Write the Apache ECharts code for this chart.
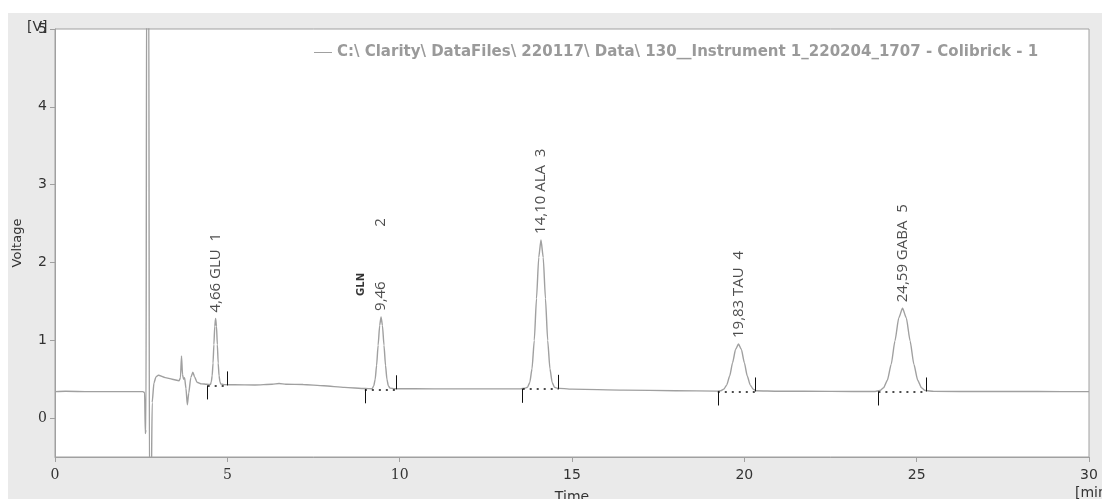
<!DOCTYPE html>
<html><head><meta charset="utf-8">
<script src="https://cdn.jsdelivr.net/npm/echarts@6/dist/echarts.min.js"></script>
<style>html,body{margin:0;padding:0;background:#fff}#c{width:1102px;height:499px}</style>
</head><body><div id="c"></div>
<script>
// ---- data ----
const seriesName = 'C:\\ Clarity\\ DataFiles\\ 220117\\ Data\\ 130__Instrument 1_220204_1707 - Colibrick - 1';
const traceTime = [
  0.00,0.30,1.00,2.00,2.55,2.60,2.62,2.64,2.66,2.72,2.74,2.79,2.82,2.87,2.93,3.00,3.20,3.40,3.60,3.64,3.67,3.70,3.73,3.76,3.80,3.84,3.88,3.94,4.00,4.05,4.12,4.25,4.40,4.51,
  4.535,4.56,4.585,4.61,4.635,4.66,4.685,4.71,4.735,4.76,4.785,4.81,
  4.90,5.20,5.80,6.30,6.50,6.70,7.20,7.80,8.40,9.00,9.20,
  9.25,9.29,9.33,9.375,9.42,9.46,9.50,9.545,9.59,9.63,9.67,9.72,
  9.85,11.0,12.5,13.5,
  13.645,13.71,13.775,13.84,13.905,13.97,14.035,14.10,14.165,14.23,14.295,14.36,14.425,14.49,14.555,
  15.0,16.5,18.0,19.2,
  19.32,19.405,19.49,19.575,19.66,19.745,19.83,19.915,20.0,20.085,20.17,20.255,20.34,
  21.0,22.5,23.8,
  23.93,24.04,24.15,24.26,24.37,24.48,24.59,24.70,24.81,24.92,25.03,25.14,25.25,
  25.5,27.0,28.5,30.0
];
const traceVolt = [
  0.34,0.345,0.34,0.34,0.34,0.33,-0.20,-0.15,6.00,6.00,-1.00,-1.00,0.20,0.45,0.53,0.55,0.52,0.50,0.48,0.52,0.80,0.56,0.50,0.52,0.38,0.17,0.32,0.52,0.59,0.53,0.46,0.44,0.435,0.432,
  0.467,0.545,0.706,0.946,1.18,1.28,1.18,0.946,0.706,0.545,0.467,0.439,
  0.43,0.428,0.425,0.435,0.445,0.435,0.432,0.415,0.395,0.38,0.378,
  0.416,0.50,0.675,0.936,1.191,1.30,1.191,0.936,0.675,0.50,0.416,0.385,
  0.378,0.376,0.375,0.375,
  0.385,0.396,0.459,0.634,0.997,1.536,2.065,2.29,2.065,1.536,0.997,0.634,0.459,0.396,0.385,
  0.372,0.36,0.352,0.347,
  0.352,0.372,0.427,0.542,0.713,0.881,0.952,0.881,0.713,0.542,0.427,0.372,0.352,
  0.345,0.343,0.342,
  0.354,0.389,0.487,0.689,0.991,1.286,1.412,1.286,0.991,0.689,0.487,0.389,0.354,
  0.343,0.342,0.341,0.340
];
const peakTimes = [4.66, 9.46, 14.10, 19.83, 24.59];
const peakApex  = [1.28, 1.30, 2.29, 0.952, 1.412];
const peakNames = ['GLU', '', 'ALA', 'TAU', 'GABA'];
const peakNums  = [1, 2, 3, 4, 5];
const peakStart = [4.43, 8.99, 13.57, 19.23, 23.89];
const peakEnd   = [4.99, 9.91, 14.61, 20.32, 25.27];
const peakBase  = [0.42, 0.37, 0.376, 0.342, 0.342];
const noteTime = 8.89, noteVolt = 1.57, noteText = 'GLN';
const xTicks = [0, 5, 10, 15, 20, 25, 30];
const yTicks = [0, 1, 2, 3, 4, 5];

// ---- build ----
const markLen = 0.18;
const trace = traceTime.map((t, i) => [t, traceVolt[i]]);
const mlData = [];
peakTimes.forEach((_, i) => {
  mlData.push([{coord:[peakStart[i], peakBase[i]]}, {coord:[peakStart[i], peakBase[i] - markLen]}]);
  mlData.push([{coord:[peakEnd[i], peakBase[i]]}, {coord:[peakEnd[i], peakBase[i] + markLen]}]);
  mlData.push([{coord:[peakStart[i], peakBase[i]], lineStyle:{type:[2,5], width:1.5}}, {coord:[peakEnd[i], peakBase[i]]}]);
});
const fmtT = t => t.toFixed(2).replace('.', ',');
const labelPts = peakTimes.map((t, i) => ({
  value: [t, peakApex[i]],
  txt: fmtT(t) + ' ' + (peakNames[i] || '\u2007\u2007\u2007\u2007\u2007') + '  ' + peakNums[i]
}));

const chart = echarts.init(document.getElementById('c'), null, {renderer: 'canvas'});
const tickFont = 'DejaVu Sans';
const serifFont = 'DejaVu Serif';
chart.setOption({
  animation: false,
  backgroundColor: '#ffffff',
  graphic: [
    {type:'rect', shape:{x:8, y:13, width:1094, height:486}, style:{fill:'#eaeaea'}, z:-10, silent:true},
    {type:'text', left: 27, top: 20, style:{text:'[V]', fontSize:14, fontFamily:tickFont, fill:'#333'}, z:10},
    {type:'text', left: 1075, top: 486, style:{text:'[min]', fontSize:14, fontFamily:tickFont, fill:'#333'}}
  ],
  legend: {
    data: [seriesName], left: 309, top: 40, icon: 'rect', itemWidth: 18, itemHeight: 1,
    textStyle: {color:'#9a9a9a', fontWeight:'bold', fontSize:15, fontFamily:'DejaVu Sans'}
  },
  grid: {left:55, right:13, top:29, bottom:42, outerBoundsMode:'none', containLabel:false,
    show:true, backgroundColor:'#ffffff', borderColor:'#a0a0a0', borderWidth:1},
  xAxis: {
    type:'value', min:0, max:30, interval:5,
    name:'Time', nameLocation:'middle', nameGap:33,
    nameTextStyle:{fontSize:14, fontFamily:tickFont, color:'#333'},
    axisLine:{onZero:false, lineStyle:{color:'#a0a0a0'}},
    axisTick:{show:true, length:5, lineStyle:{color:'#a0a0a0'}},
    splitLine:{show:false},
    axisLabel:{margin:11, color:'#333',
      formatter: v => ([0,5,10].includes(v) ? '{s|' + v + '}' : '{n|' + v + '}'),
      rich:{s:{fontFamily:serifFont, fontSize:14, color:'#333'}, n:{fontFamily:tickFont, fontSize:14, color:'#333'}}}
  },
  yAxis: {
    type:'value', min:-0.5, max:5,
    name:'Voltage', nameLocation:'middle', nameGap:31, nameRotate:90,
    nameTextStyle:{fontSize:13, fontFamily:tickFont, color:'#333'},
    axisLine:{show:true, onZero:false, lineStyle:{color:'#a0a0a0'}},
    axisTick:{show:true, length:5, customValues: yTicks, lineStyle:{color:'#a0a0a0'}},
    splitLine:{show:false},
    axisLabel:{margin:8, color:'#333', customValues: yTicks,
      formatter: v => (v === 0 ? '{s|0}' : '{n|' + v + '}'),
      rich:{s:{fontFamily:serifFont, fontSize:14, color:'#333'}, n:{fontFamily:tickFont, fontSize:14, color:'#333'}}}
  },
  series: [
    {
      name: seriesName, type:'line', data: trace, symbol:'none', smooth:0.2, smoothMonotone:'x',
      lineStyle:{color:'#a0a0a0', width:1.4}, itemStyle:{color:'#a0a0a0'}, clip:true,
      markLine:{silent:true, symbol:['none','none'], label:{show:false},
        lineStyle:{color:'#111', width:1, type:'solid'}, emphasis:{disabled:true}, data: mlData}
    },
    {
      type:'scatter', data: labelPts, symbolSize:0, silent:true,
      label:{show:true, position:'top', distance:6, rotate:90, align:'left', verticalAlign:'middle',
        formatter: p => p.data.txt, fontSize:15, fontFamily:'Open Sans', color:'#222'}
    },
    {
      type:'scatter', data:[[noteTime, noteVolt]], symbolSize:0, silent:true,
      label:{show:true, position:'top', distance:0, rotate:90, align:'left', verticalAlign:'middle',
        formatter: () => noteText, fontSize:10, fontWeight:'bold', fontFamily:'DejaVu Sans', color:'#000'}
    }
  ]
});
</script></body></html>
